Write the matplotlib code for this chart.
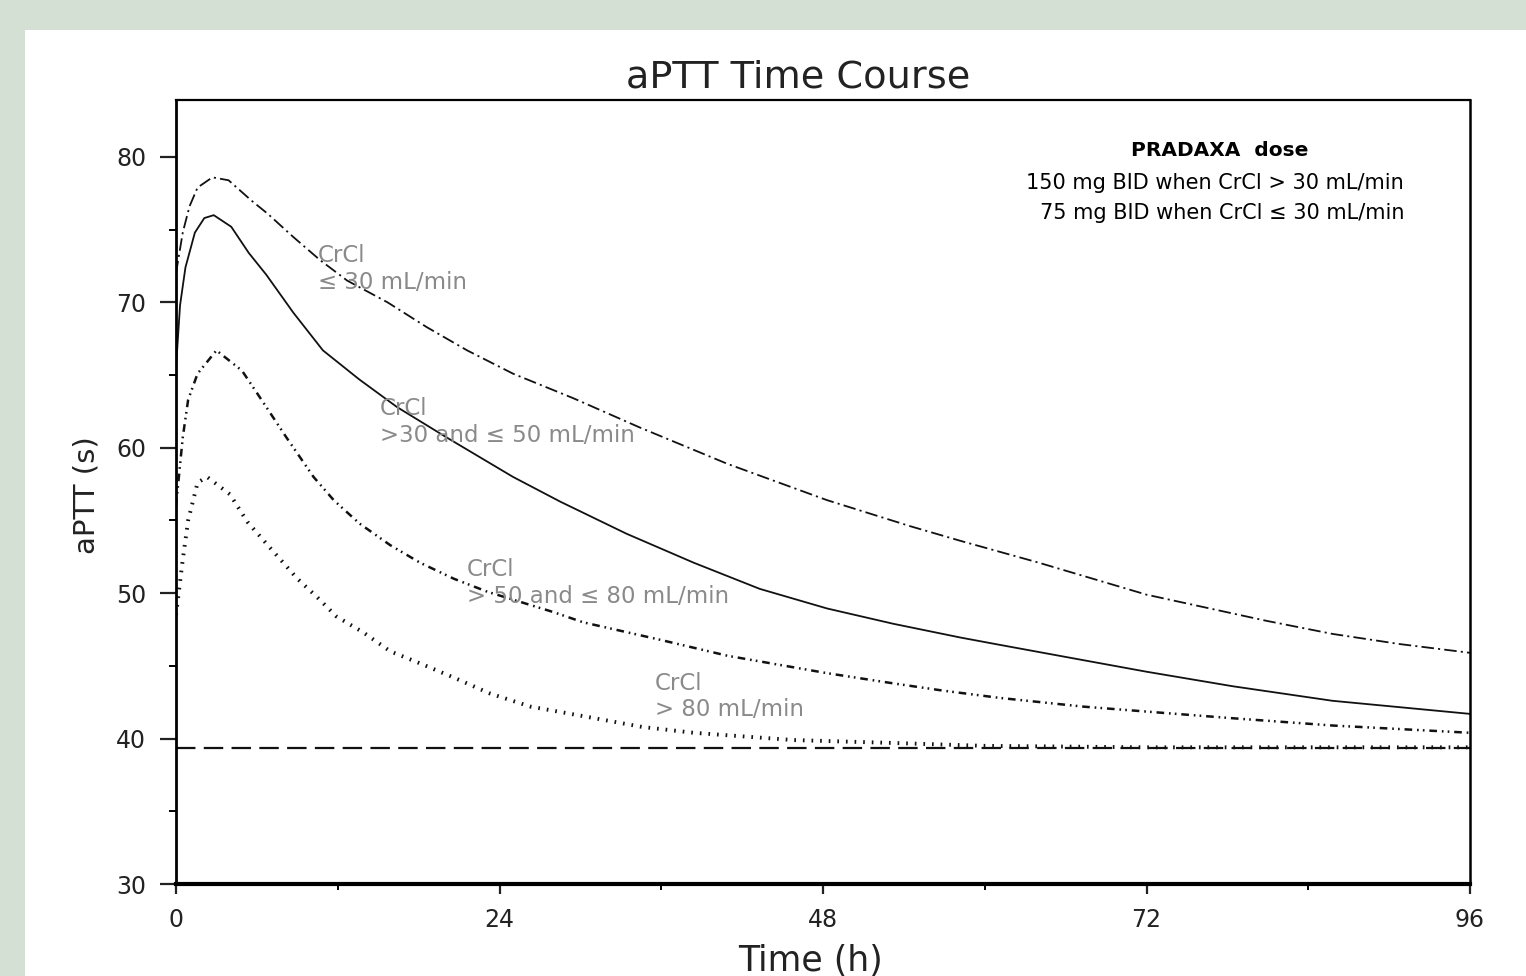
import matplotlib
matplotlib.use("Agg")
import matplotlib.pyplot as plt
from matplotlib.patches import Rectangle

plt.rcParams['font.family'] = ['DejaVu Sans']
plt.rcParams['lines.scale_dashes'] = False

# data
t_le30 = [0, 0.5, 1.0, 1.6, 2.7, 3.9, 5.6, 6.8, 8.7, 10.7, 12.7, 15.7, 18.6, 21.6, 25.0,
          29.5, 34.4, 40.9, 48.3, 54.5, 58.2, 64.0, 72.0, 80.9, 85.8, 90.8, 96.0]
aptt_le30 = [72.0, 74.8, 76.6, 77.9, 78.6, 78.4, 77.0, 76.1, 74.5, 72.9, 71.5, 70.0, 68.3, 66.7, 65.1,
             63.4, 61.4, 58.9, 56.4, 54.6, 53.6, 52.1, 49.9, 48.1, 47.2, 46.5, 45.9]

t_30_50 = [0, 0.3, 0.7, 1.4, 2.1, 2.8, 4.1, 5.4, 6.7, 8.7, 10.9, 13.6, 16.4, 20.1, 25.0,
           28.5, 33.4, 38.4, 43.3, 48.3, 53.2, 58.2, 61.1, 66.1, 72.0, 78.4, 85.8, 96.0]
aptt_30_50 = [65.5, 69.8, 72.4, 74.8, 75.8, 76.0, 75.2, 73.4, 71.9, 69.3, 66.7, 64.7, 62.8, 60.7, 58.0,
              56.3, 54.1, 52.1, 50.3, 48.95, 47.9, 46.95, 46.45, 45.6, 44.6, 43.6, 42.6, 41.7]

t_50_80 = [0, 0.5, 0.9, 1.6, 3.0, 4.9, 6.2, 8.2, 10.2, 11.7, 13.6, 15.9, 18.1, 20.6, 23.1,
           28.0, 30.2, 35.9, 40.9, 48.3, 53.2, 56.9, 61.1, 67.3, 72.8, 78.4, 85.8, 96.0]
aptt_50_80 = [56.0, 60.7, 63.3, 65.1, 66.7, 65.3, 63.5, 60.7, 58.0, 56.4, 54.8, 53.3, 52.1, 51.0, 50.1,
              48.7, 48.0, 46.8, 45.7, 44.5, 43.8, 43.3, 42.8, 42.2, 41.8, 41.4, 40.9, 40.4]

t_gt80 = [0, 0.5, 0.9, 1.6, 2.3, 4.0, 5.3, 7.0, 9.0, 10.5, 11.9, 13.9, 15.9, 18.3, 20.6,
          23.3, 26.3, 28.7, 34.6, 38.4, 45.8, 53.2, 60.0, 72.0, 96.0]
aptt_gt80 = [48.5, 52.3, 55.0, 57.6, 58.0, 56.8, 54.9, 53.1, 51.0, 49.7, 48.4, 47.3, 46.0, 45.1, 44.2,
             43.1, 42.2, 41.8, 40.8, 40.4, 39.9, 39.7, 39.5, 39.4, 39.4]

t_base = [0, 96]
aptt_base = [39.35, 39.35]

labels = ["CrCl\n\u2264 30 mL/min",
          "CrCl\n>30 and \u2264 50 mL/min",
          "CrCl\n> 50 and \u2264 80 mL/min",
          "CrCl\n> 80 mL/min"]
label_t = [10.5, 15.1, 21.6, 35.5]
label_y = [74.0, 63.5, 52.4, 44.6]

box_lines = ["PRADAXA  dose",
             "150 mg BID when CrCl > 30 mL/min",
             "75 mg BID when CrCl \u2264 30 mL/min"]

W, H = 1526, 976
fig = plt.figure(figsize=(W / 100, H / 100), dpi=100)
fig.patch.set_facecolor('#d5e0d4')
fig.add_artist(Rectangle((25 / W, 0), 1, 946 / H, transform=fig.transFigure,
                         facecolor='white', edgecolor='none', zorder=-10))

ax = fig.add_axes([176 / W, 1 - 884 / H, (1470 - 176) / W, (884 - 100) / H])
ax.set_facecolor('white')

ax.plot(t_base, aptt_base, color='#111111', lw=1.6, dashes=(14, 6))
ax.plot(t_le30, aptt_le30, color='#111111', lw=1.3, dashes=(9, 3, 1.5, 3))
ax.plot(t_30_50, aptt_30_50, color='#111111', lw=1.3)
ax.plot(t_50_80, aptt_50_80, color='#111111', lw=1.8, dashes=(5.5, 3.5, 1.2, 3, 1.2, 3.5))
ax.plot(t_gt80, aptt_gt80, color='#111111', lw=2.8, dashes=(1.2, 5))

ax.set_xlim(0, 96)
ax.set_ylim(30, 83.92)
ax.set_xticks([0, 24, 48, 72, 96])
ax.set_xticks([12, 36, 60, 84], minor=True)
ax.set_yticks([30, 40, 50, 60, 70, 80])
ax.set_yticks([35, 45, 55, 65, 75], minor=True)

ax.tick_params(axis='y', which='major', length=11.5, width=1.6, labelsize=17, pad=10, colors='#222222')
ax.tick_params(axis='y', which='minor', length=5, width=1.4)
ax.tick_params(axis='x', which='major', length=7, width=1.6, labelsize=17, pad=10, colors='#222222')
ax.tick_params(axis='x', which='minor', length=4, width=1.4)

ax.spines['left'].set_linewidth(2.0)
ax.spines['bottom'].set_linewidth(3.0)
ax.spines['top'].set_linewidth(1.6)
ax.spines['right'].set_linewidth(1.8)

for txt, tx, ty in zip(labels, label_t, label_y):
    ax.text(tx, ty, txt, color='#8a8a8a', fontsize=16.5, ha='left', va='top', linespacing=1.2)

fig.text(1220 / W, 1 - 150 / H, box_lines[0], fontsize=14.5, fontweight='bold', ha='center', va='center')
fig.text(1215 / W, 1 - 183 / H, box_lines[1], fontsize=15, ha='center', va='center')
fig.text(1222 / W, 1 - 213 / H, box_lines[2], fontsize=15, ha='center', va='center')

fig.text(798 / W, 1 - 88 / H, "aPTT Time Course", fontsize=27.5, ha='center', va='baseline', color='#222222')
fig.text(811 / W, 1 - 971 / H, "Time (h)", fontsize=25, ha='center', va='baseline', color='#222222')
fig.text(87 / W, 1 - 495 / H, "aPTT (s)", fontsize=21, rotation=90, ha='center', va='center', color='#222222')

fig.savefig("out.png", dpi=100, facecolor=fig.get_facecolor())
